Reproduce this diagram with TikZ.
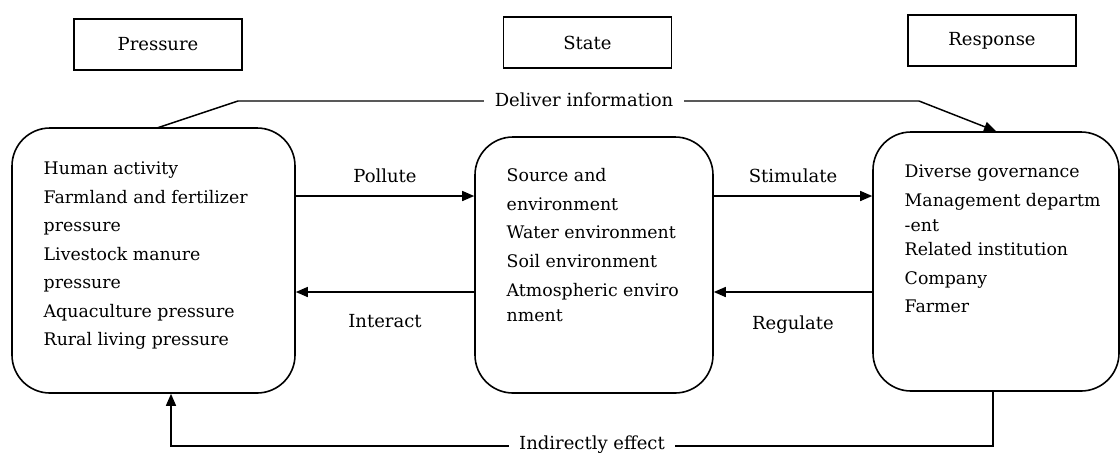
\documentclass[tikz,border=0pt]{standalone}
\usepackage{fontspec}
\setmainfont{DejaVu Serif}
\usetikzlibrary{arrows.meta}
\begin{document}
\begin{tikzpicture}[x=0.75pt,y=-0.75pt,
  head/.style={draw, line width=1.1pt, minimum height=38pt, minimum width=126pt, font=\fontsize{13.5}{16}\selectfont},
  block/.style={draw, line width=1.2pt, rounded corners=28.5pt},
  items/.style={anchor=north west, inner sep=0pt, align=left, font=\fontsize{13}{21.4}\selectfont},
  lab/.style={font=\fontsize{13.5}{16}\selectfont},
  >={Triangle[length=9pt,width=7.5pt]}, line width=1.1pt]
\useasboundingbox (0,0) rectangle (1120,455);
\node[head] (hp) at (158,44.5) {Pressure};
\node[head] (hs) at (587.5,42.5) {State};
\node[head] (hr) at (992,40.5) {Response};
\node[block, minimum width=212.25pt, minimum height=198.75pt] (pbox) at (153.5,260.5) {};
\node[block, minimum width=178.5pt, minimum height=192pt] (sbox) at (594,265) {};
\node[block, minimum width=184.5pt, minimum height=194.25pt] (rbox) at (996,261.5) {};
\node[items] (ptext) at (43,161) {Human activity\\Farmland and fertilizer\\pressure\\Livestock manure\\pressure\\Aquaculture pressure\\Rural living pressure};
\node[items] (stext) at (506,168) {Source and\\environment\\Water environment\\Soil environment\\Atmospheric enviro\\[-2.5pt]nment};
\node[items] (rtext) at (904,164) {Diverse governance\\Management departm\\[-2.5pt]-ent\\[-3pt]Related institution\\Company\\Farmer};
\coordinate (up) at (0,196);
\coordinate (lo) at (0,292);
\coordinate (d1) at (238,101);
\coordinate (d2) at (919,101);
\coordinate (i1) at (993,446);
\coordinate (i2) at (171,446);
\draw[->] (pbox.east |- up) -- node[lab, above=6pt] (pol) {Pollute} (sbox.west |- up);
\draw[->] (sbox.east |- up) -- node[lab, above=6pt] (sti) {Stimulate} (rbox.west |- up);
\draw[->] (sbox.west |- lo) -- node[lab, below=13pt] (int) {Interact} (pbox.east |- lo);
\draw[->] (rbox.west |- lo) -- node[lab, below=14pt] (reg) {Regulate} (sbox.east |- lo);
\draw[->] (157,128) -- (d1) -- (d2) -- (rbox.north);
\node[lab, fill=white, inner xsep=8pt] (del) at (584,100) {Deliver information};
\draw[->] (i1 |- rbox.south) -- (i1) -- (i2) -- (i2 |- pbox.south);
\node[lab, fill=white, inner xsep=8pt] (ind) at (592,445) {Indirectly effect};
\end{tikzpicture}
\end{document}
